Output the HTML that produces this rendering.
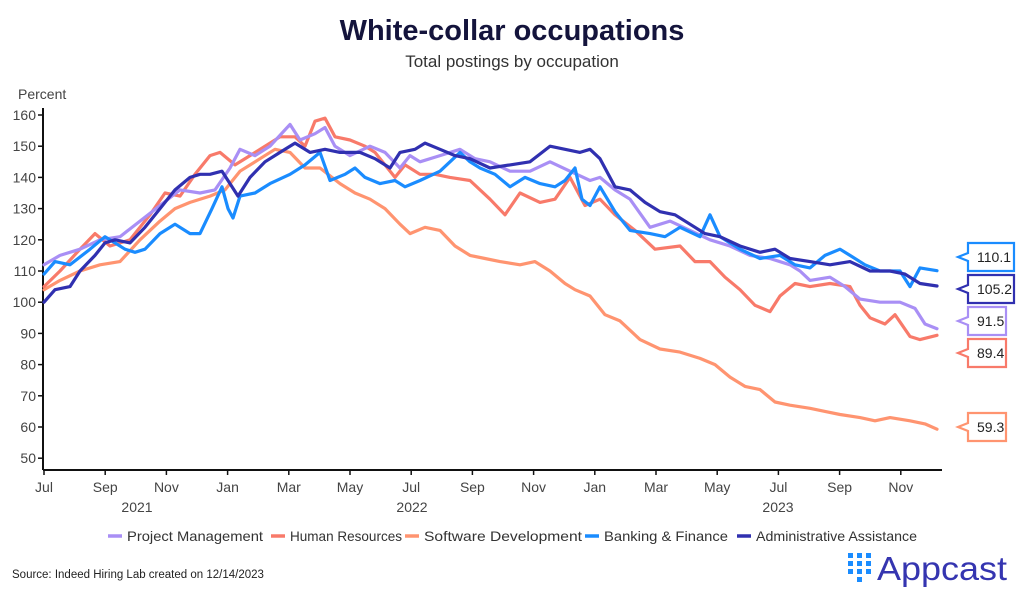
<!DOCTYPE html>
<html><head><meta charset="utf-8"><style>
body{margin:0;background:#fff;width:1024px;height:594px;overflow:hidden;font-family:"Liberation Sans",sans-serif;}
</style></head><body>
<svg id="s" width="1024" height="594" xmlns="http://www.w3.org/2000/svg" font-family="Liberation Sans, sans-serif">
<text x="512" y="40" text-anchor="middle" font-size="29" font-weight="bold" fill="#14143c">White-collar occupations</text>
<text x="512" y="67" text-anchor="middle" font-size="17" fill="#333">Total postings by occupation</text>
<text x="18" y="99" font-size="14" fill="#444">Percent</text>
<g id="yax" font-size="14" fill="#444" text-anchor="end"></g>
<line x1="43" y1="108" x2="43" y2="470" stroke="#111" stroke-width="2"/>
<line x1="43" y1="470" x2="942" y2="470" stroke="#111" stroke-width="2"/>
<g id="xax" font-size="14" fill="#444" text-anchor="middle"></g>
<g id="lines" fill="none" stroke-width="3.2" stroke-linejoin="round" stroke-linecap="round"></g>
<g id="labels" font-size="14" fill="#222"></g>
<g id="legend" font-size="14" fill="#333"></g>
<text x="12" y="578" font-size="11.5" fill="#222">Source: Indeed Hiring Lab created on 12/14/2023</text>
<g fill="#1a8cff">
<rect x="848" y="553" width="5" height="5"/><rect x="848" y="561" width="5" height="5"/><rect x="848" y="569" width="5" height="5"/>
<rect x="857" y="553" width="5" height="5"/><rect x="857" y="561" width="5" height="5"/><rect x="857" y="569" width="5" height="5"/><rect x="857" y="577" width="5" height="5"/>
<rect x="866" y="553" width="5" height="5"/><rect x="866" y="561" width="5" height="5"/><rect x="866" y="569" width="5" height="5"/>
</g>
<text x="877" y="580" font-size="33" fill="#3535b0" textLength="130" lengthAdjust="spacingAndGlyphs">Appcast</text>
</svg>
<script>
const Y=v=>115+(160-v)*3.12;
const ns="http://www.w3.org/2000/svg";
function el(t,a,txt,p){const e=document.createElementNS(ns,t);for(const k in a)e.setAttribute(k,a[k]);if(txt!=null)e.textContent=txt;document.getElementById(p).appendChild(e);return e;}
for(let v=50;v<=160;v+=10){el('text',{x:36,y:Y(v)+5},v,'yax');el('line',{x1:38,x2:43,y1:Y(v),y2:Y(v),stroke:'#111','stroke-width':1.5},null,'yax');}
const mons=['Jul','Sep','Nov','Jan','Mar','May','Jul','Sep','Nov','Jan','Mar','May','Jul','Sep','Nov'];
mons.forEach((m,i)=>{const x=44+i*61.2;el('text',{x:x,y:492},m,'xax');el('line',{x1:x,x2:x,y1:470,y2:475,stroke:'#111','stroke-width':1.5},null,'xax');});
[['2021',137],['2022',412],['2023',778]].forEach(a=>el('text',{x:a[1],y:512},a[0],'xax'));
const S=[
['#ff9470',[44,104,60,107,80,110,100,112,120,113,140,120,160,126,175,130,190,132,210,134,225,136,240,142,260,146,275,149,290,148,305,143,320,143,340,138,355,135,370,133,385,130,400,125,410,122,425,124,440,123,455,118,470,115,485,114,500,113,520,112,535,113,550,110,565,106,575,104,590,102,605,96,620,94,640,88,660,85,680,84,700,82,715,80,730,76,745,73,760,72,775,68,790,67,810,66,825,65,840,64,860,63,875,62,890,63,910,62,925,61,937,59.3]],
['#f87a6a',[44,105,60,110,80,117,95,122,110,118,130,120,150,128,165,135,180,134,195,141,210,147,220,148,235,144,250,147,265,150,280,153,295,153,305,150,315,158,325,159,335,153,350,152,365,150,375,148,385,144,395,140,405,144,420,141,435,141,450,140,470,139,490,133,505,128,520,135,540,132,555,133,570,140,585,131,600,133,615,128,635,123,655,117,680,118,695,113,710,113,725,108,740,104,755,99,770,97,780,102,795,106,810,105,830,106,850,105,860,99,870,95,885,93,895,96,910,89,920,88,937,89.4]],
['#a98ff5',[44,112,60,115,80,117,100,120,120,121,140,126,160,131,180,136,200,135,215,136,230,143,240,149,255,147,270,150,290,157,300,152,315,154,325,156,335,150,350,147,370,150,385,148,400,143,410,147,420,145,440,147,460,149,475,146,490,145,510,142,530,142,550,145,570,142,590,139,600,140,615,136,630,133,650,124,670,126,690,123,710,120,730,118,750,115,770,114,790,112,800,110,810,107,830,108,845,105,860,101,880,100,900,100,915,98,925,93,937,91.5]],
['#1a8cff',[44,109,55,113,70,112,90,117,105,121,115,119,125,117,135,116,145,117,160,122,175,125,190,122,200,122,212,130,222,137,228,130,233,127,240,134,255,135,270,138,290,141,305,144,320,148,330,139,345,141,355,143,365,140,380,138,395,139,405,137,420,139,440,142,460,148,470,145,480,143,495,141,510,137,525,140,540,138,555,137,565,139,575,143,582,133,590,131,600,137,615,129,630,123,650,122,665,121,680,124,700,121,710,128,720,121,740,117,760,114,780,115,795,112,810,111,825,115,840,117,850,115,865,112,880,110,900,110,910,105,920,111,937,110.1]],
['#3030b0',[44,100,55,104,70,105,80,110,95,115,105,119,115,120,130,119,145,124,160,130,175,136,190,140,200,141,210,141,222,142,232,137,238,134,250,140,265,145,280,148,295,151,310,148,325,149,340,148,360,148,375,146,390,143,400,148,415,149,425,151,440,149,455,147,470,146,490,143,510,144,530,145,550,150,565,149,580,148,590,149,600,146,615,137,630,136,645,132,660,129,675,128,690,125,705,122,720,121,740,118,760,116,775,117,790,114,810,113,830,112,850,113,870,110,890,110,905,109,920,106,937,105.2]]];
S.forEach(s=>{let p=[];for(let i=0;i<s[1].length;i+=2)p.push(s[1][i]+','+Y(s[1][i+1]).toFixed(1));el('polyline',{points:p.join(' '),stroke:s[0]},null,'lines');});
[['110.1','#1a8cff',257,1014],['105.2','#3030b0',289,1014],['91.5','#a98ff5',321,1006],['89.4','#f87a6a',353,1006],['59.3','#ff9470',427,1006]].forEach(l=>{
const y=l[2],x0=968,x1=l[3];
el('path',{d:`M${x0},${y-14} H${x1} V${y+14} H${x0} V${y+4} L958,${y} L${x0},${y-4} Z`,fill:'#fff',stroke:l[1],'stroke-width':2.2},null,'labels');
el('text',{x:x0+9,y:y+5},l[0],'labels');});
[['Project Management','#a98ff5',108,136],['Human Resources','#f87a6a',271,112],['Software Development','#ff9470',405,158],['Banking & Finance','#1a8cff',585,124],['Administrative Assistance','#3030b0',737,161]].forEach(l=>{
el('line',{x1:l[2],x2:l[2]+14,y1:536,y2:536,stroke:l[1],'stroke-width':3.5},null,'legend');
el('text',{x:l[2]+19,y:541,textLength:l[3],lengthAdjust:'spacingAndGlyphs'},l[0],'legend');});
</script>
</body></html>
